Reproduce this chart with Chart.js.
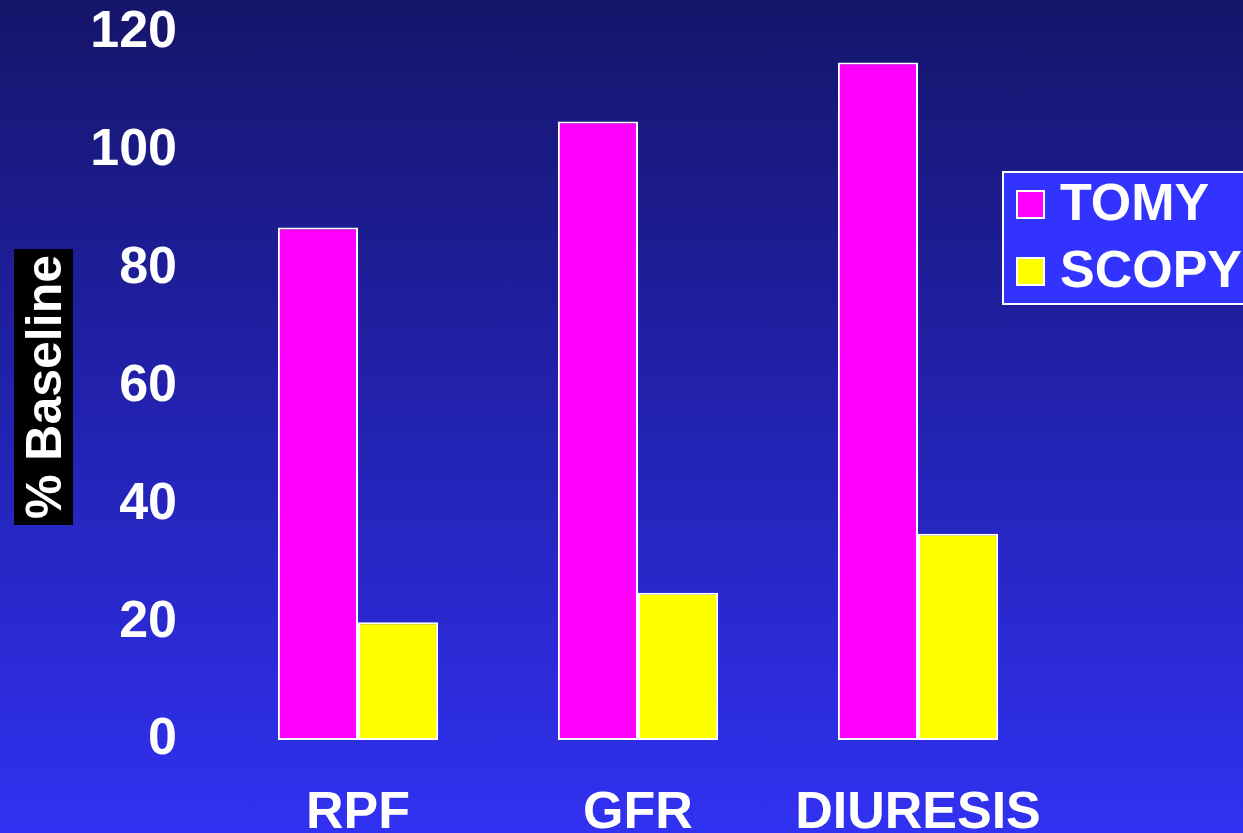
<!DOCTYPE html>
<html>
<head>
<meta charset="utf-8">
<script src="https://cdn.jsdelivr.net/npm/chart.js@4.4.1/dist/chart.umd.min.js"></script>
<style>
  html, body { margin: 0; padding: 0; }
  body {
    width: 1243px; height: 833px; overflow: hidden;
    background: linear-gradient(to bottom, #15156a 0%, #2222b0 50%, #3131f2 100%);
  }
  #wrap { position: relative; width: 1243px; height: 833px; }
</style>
</head>
<body>
<div id="wrap"><canvas id="renalChart" width="1243" height="833"></canvas></div>
<script>
const categories = ['RPF', 'GFR', 'DIURESIS'];
const tomyValues = [87, 105, 115];
const scopyValues = [20, 25, 35];
const seriesNames = ['TOMY', 'SCOPY'];
const yTicks = [0, 20, 40, 60, 80, 100, 120];
const yTitle = '% Baseline';

const FONT = '"Liberation Sans", Arial, sans-serif';

// y axis title: white text on a black strip, drawn before the scales
const yTitlePlugin = {
  id: 'yTitle',
  beforeDraw(chart) {
    const ctx = chart.ctx;
    const cy = 387;
    ctx.save();
    ctx.fillStyle = '#000';
    ctx.fillRect(14, cy - 138, 59, 276);
    ctx.translate(45, cy);
    ctx.rotate(-Math.PI / 2);
    ctx.fillStyle = '#fff';
    ctx.font = 'bold 50px ' + FONT;
    ctx.textAlign = 'center';
    ctx.textBaseline = 'middle';
    ctx.fillText(yTitle, 0, 2);
    ctx.restore();
  }
};

// boxed legend sitting over the right edge of the plot
const boxLegend = {
  id: 'boxLegend',
  afterDraw(chart) {
    const ctx = chart.ctx;
    const x = 1002, y = 171, w = 260, h = 134;
    ctx.save();
    ctx.fillStyle = '#3333ff';
    ctx.fillRect(x, y, w, h);
    ctx.strokeStyle = '#fff';
    ctx.lineWidth = 2;
    ctx.strokeRect(x + 1, y + 1, w, h - 2);
    chart.data.datasets.forEach((ds, i) => {
      const rowY = y + 33 + i * 67;
      ctx.fillStyle = ds.backgroundColor;
      ctx.fillRect(x + 14, rowY - 14, 29, 29);
      ctx.strokeStyle = '#fff';
      ctx.lineWidth = 2;
      ctx.strokeRect(x + 15, rowY - 13, 27, 27);
      ctx.fillStyle = '#fff';
      ctx.font = 'bold 52px ' + FONT;
      ctx.textAlign = 'left';
      ctx.textBaseline = 'middle';
      ctx.fillText(ds.label, x + 58, rowY + 2);
    });
    ctx.restore();
  }
};

new Chart(document.getElementById('renalChart'), {
  type: 'bar',
  data: {
    labels: categories,
    datasets: [
      {
        label: seriesNames[0],
        data: tomyValues,
        backgroundColor: '#ff00ff',
        borderColor: '#ffffff',
        borderWidth: 2,
        borderSkipped: false
      },
      {
        label: seriesNames[1],
        data: scopyValues,
        backgroundColor: '#ffff00',
        borderColor: '#ffffff',
        borderWidth: 2,
        borderSkipped: false
      }
    ]
  },
  options: {
    responsive: false,
    animation: false,
    categoryPercentage: 0.572,
    barPercentage: 1.0,
    layout: { padding: { top: 33, right: 185, bottom: 0, left: 0 } },
    plugins: {
      legend: { display: false },
      tooltip: { enabled: false }
    },
    scales: {
      x: {
        grid: { display: false, drawTicks: false },
        border: { display: false },
        ticks: {
          color: '#fff',
          padding: 44,
          font: { family: FONT, size: 52, weight: 'bold', lineHeight: 1.15 }
        },
        afterFit(scale) {
          scale.height = 93;
          scale.paddingLeft = 0;
          scale.paddingRight = 0;
        }
      },
      y: {
        min: 0,
        max: 120,
        afterBuildTicks(scale) { scale.ticks = yTicks.map(v => ({ value: v })); },
        grid: { display: false, drawTicks: false },
        border: { display: false },
        ticks: {
          color: '#fff',
          padding: 41,
          font: { family: FONT, size: 52, weight: 'bold' }
        },
        afterFit(scale) {
          scale.width = 218;
          scale.paddingTop = 0;
          scale.paddingBottom = 0;
        }
      }
    }
  },
  plugins: [yTitlePlugin, boxLegend]
});
</script>
</body>
</html>
